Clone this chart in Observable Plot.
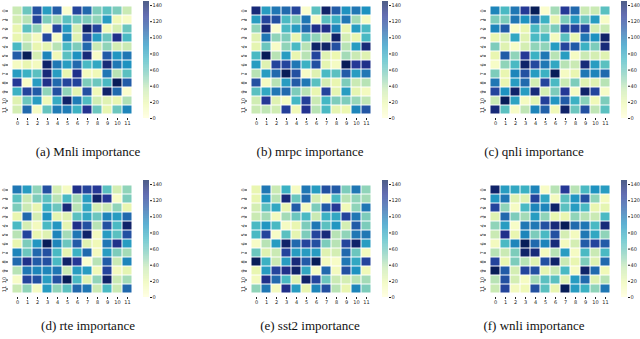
<!DOCTYPE html>
<html><head><meta charset="utf-8">
<script src="https://cdn.jsdelivr.net/npm/d3@7"></script>
<script src="https://cdn.jsdelivr.net/npm/@observablehq/plot@0.6"></script>
<style>
body{margin:0;background:#fff;width:640px;height:339px;position:relative;overflow:hidden}
.p{position:absolute}
.p svg{max-width:none !important;display:block}
.cap{position:absolute;font-family:"Liberation Serif","Times New Roman",serif;font-size:13px;white-space:nowrap;transform:translateX(-50%);color:#111}
</style></head><body><div id="root"></div>
<script>
const rowLabels = ["0","1","2","3","4","5","6","7","8","9","10","11"];
const colLabels = ["0","1","2","3","4","5","6","7","8","9","10","11"];
const colorbarTicks = [0,20,40,60,80,100,120,140];
const captions = ["(a) Mnli importance","(b) mrpc importance","(c) qnli importance","(d) rte importance","(e) sst2 importance","(f) wnli importance"];

const mnli = [
 [35,60,115,85,110,5,120,105,55,65,55,35],
 [30,40,120,55,45,65,60,55,50,85,15,8],
 [20,65,50,10,120,85,30,140,120,15,30,60],
 [20,30,12,118,10,95,25,118,85,60,130,70],
 [70,40,20,22,40,70,55,105,35,50,30,35],
 [110,145,30,95,15,65,90,135,8,110,88,100],
 [10,20,12,140,100,85,105,70,80,135,100,90],
 [85,75,65,135,85,20,130,12,15,100,40,65],
 [125,8,85,130,105,120,120,55,60,70,145,110],
 [75,120,110,50,115,50,22,115,15,140,105,5],
 [25,60,85,15,78,140,98,68,32,25,20,42],
 [30,105,10,62,98,98,75,128,60,21,60,95]
];
const mrpc = [
 [135,85,100,105,120,5,65,140,110,90,100,90],
 [85,120,115,70,55,100,10,65,75,100,45,10],
 [50,135,5,70,85,105,130,130,95,20,85,70],
 [25,100,50,55,20,65,50,35,140,30,20,70],
 [22,60,8,50,70,40,140,140,115,40,85,135],
 [70,145,40,85,20,40,120,25,18,45,35,25],
 [85,25,120,120,100,75,115,22,10,145,125,130],
 [40,85,105,145,115,8,25,70,65,110,85,100],
 [115,10,40,85,110,100,65,30,20,55,35,40],
 [65,80,100,105,55,40,20,120,22,85,22,12],
 [32,125,25,11,72,122,35,72,55,55,48,38],
 [35,38,32,122,15,128,40,70,22,18,95,112]
];
const qnli = [
 [95,70,100,125,145,5,45,125,105,35,35,65],
 [55,55,100,90,105,75,20,55,85,60,85,8],
 [95,110,8,20,70,50,55,120,120,120,30,35],
 [20,30,80,25,70,70,12,65,20,100,90,140],
 [55,25,8,30,50,50,85,120,110,75,55,135],
 [20,110,50,125,75,100,40,85,10,35,30,25],
 [8,50,70,140,118,100,80,40,35,135,85,65],
 [55,20,95,115,85,75,145,10,20,100,95,105],
 [100,20,85,105,30,120,70,35,55,25,25,40],
 [120,90,140,85,135,30,55,125,10,140,120,8],
 [35,145,82,11,23,122,88,110,75,52,15,55],
 [135,65,8,38,95,108,15,140,60,115,38,65]
];
const rte = [
 [100,85,50,115,30,10,130,120,125,65,30,50],
 [65,35,55,65,40,70,45,85,140,125,8,55],
 [55,35,20,75,60,135,40,80,30,35,50,20],
 [20,105,30,90,22,25,65,80,60,95,85,105],
 [70,30,12,70,88,22,130,115,40,115,70,140],
 [40,120,20,25,95,45,100,140,12,85,65,115],
 [20,55,88,145,95,60,110,25,15,100,130,85],
 [95,60,105,115,70,22,75,105,12,85,55,45],
 [105,130,110,115,70,140,125,5,40,110,35,95],
 [40,100,95,95,100,35,85,85,15,120,12,22],
 [8,120,115,85,115,145,70,25,50,140,35,45],
 [35,50,10,85,50,65,105,100,35,70,35,105]
];
const sst2 = [
 [20,100,35,75,10,100,85,115,110,55,100,50],
 [20,88,40,135,60,105,30,12,70,40,50,45],
 [30,65,80,20,110,12,55,110,125,15,50,100],
 [35,45,12,45,60,70,35,75,80,120,100,55],
 [70,88,70,10,20,55,100,65,88,30,110,55],
 [70,120,8,65,22,55,120,135,40,50,100,100],
 [8,40,85,140,105,120,115,55,40,120,140,85],
 [60,25,35,120,85,85,85,25,30,105,60,12],
 [145,75,35,85,135,110,145,12,8,100,80,120],
 [20,85,120,130,140,80,10,105,12,115,90,15],
 [12,130,105,70,25,140,120,60,35,30,40,45],
 [50,100,12,130,85,20,95,115,40,20,95,55]
];
const wnli = [
 [140,85,80,75,95,8,40,125,40,70,90,85],
 [88,100,25,25,120,80,12,65,88,115,50,12],
 [120,50,10,70,95,95,140,65,85,70,20,22],
 [25,105,55,45,85,50,20,20,50,40,35,70],
 [50,85,8,100,100,115,135,145,105,100,70,135],
 [35,130,20,95,55,70,115,30,12,100,80,50],
 [12,70,95,145,105,95,135,12,30,110,120,110],
 [40,35,55,140,135,12,40,85,10,70,35,70],
 [120,20,55,40,25,115,140,35,20,55,25,105],
 [145,110,30,120,115,22,35,70,10,140,105,15],
 [40,115,30,10,45,65,65,25,85,105,25,40],
 [35,120,12,15,115,65,20,145,85,75,50,100]
];

const matrices = [mnli, mrpc, qnli, rte, sst2, wnli];
const vmax = 145;
// matplotlib YlGnBu anchor colours (piecewise linear)
const ylgnbu = ["#ffffd9","#edf8b1","#c7e9b4","#7fcdbb","#41b6c4","#1d91c0","#225ea8","#253494","#081d58"];
const colorScale = {type: "linear", domain: ylgnbu.map((_, i) => vmax * i / (ylgnbu.length - 1)), range: ylgnbu, clamp: true};
const cellLefts = [8, 247, 486];
const cellTops = [1, 180];
const capCenters = [88, 310, 534];
const capTops = [144, 318];
const root = document.getElementById("root");

function place(el, left, top) {
  const d = document.createElement("div");
  d.className = "p"; d.style.left = left + "px"; d.style.top = top + "px";
  d.style.width = el.getAttribute("width") + "px";
  d.appendChild(el); root.appendChild(d);
}

matrices.forEach((m, k) => {
  const cl = cellLefts[k % 3], ct = cellTops[Math.floor(k / 3)];
  const data = m.flatMap((row, i) => row.map((v, j) => ({r: rowLabels[i], c: colLabels[j], v})));
  const heat = Plot.plot({
    width: 138, height: 132, marginLeft: 9, marginRight: 1, marginTop: 1, marginBottom: 14,
    x: {domain: colLabels, padding: 0, tickSize: 2, tickPadding: 1, label: null},
    y: {domain: rowLabels, padding: 0, tickSize: 2, tickPadding: 1, label: null, tickRotate: -90},
    color: colorScale,
    style: {fontSize: "5px", fontFamily: "DejaVu Sans", background: "transparent", color: "#222"},
    marks: [Plot.cell(data, {x: "c", y: "r", fill: "v", inset: 0.5})]
  });
  place(heat, cl - 9, ct - 1);

  const steps = d3.range(0, vmax, 0.5);
  const bar = Plot.plot({
    width: 26, height: 132, marginLeft: 0, marginRight: 20, marginTop: 1, marginBottom: 14,
    x: {domain: [0, 1], axis: null},
    y: {domain: [0, vmax], axis: "right", ticks: colorbarTicks, tickSize: 2, tickPadding: 1, label: null},
    color: colorScale,
    style: {fontSize: "5px", fontFamily: "DejaVu Sans", background: "transparent", color: "#222"},
    marks: [Plot.rect(steps, {x1: 0, x2: 1, y1: d => d, y2: d => d + 0.5, fill: d => d})]
  });
  place(bar, cl + 128 + 7, ct - 1);

  const cap = document.createElement("div");
  cap.className = "cap";
  cap.textContent = captions[k];
  cap.style.left = capCenters[k % 3] + "px";
  cap.style.top = capTops[Math.floor(k / 3)] + "px";
  root.appendChild(cap);
});
</script></body></html>
